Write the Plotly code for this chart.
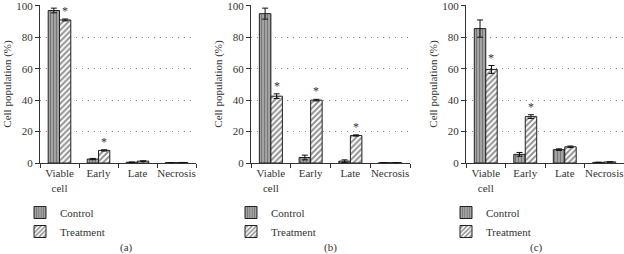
import plotly.graph_objects as go

categories = ["Viable<br>cell", "Early", "Late", "Necrosis"]
panel_labels = ["(a)", "(b)", "(c)"]

ctrl_a = [97.0, 2.5, 0.5, 0.2]
ctrl_a_err = [1.5, 0.4, 0.1, 0.05]
trt_a = [91.0, 8.0, 1.2, 0.3]
trt_a_err = [0.6, 0.4, 0.2, 0.05]
star_a = [True, True, False, False]

ctrl_b = [95.0, 3.5, 1.2, 0.2]
ctrl_b_err = [3.5, 1.5, 0.8, 0.05]
trt_b = [42.5, 40.0, 17.5, 0.2]
trt_b_err = [1.5, 0.5, 0.4, 0.05]
star_b = [True, True, True, False]

ctrl_c = [85.5, 5.5, 8.5, 0.4]
ctrl_c_err = [5.5, 1.2, 0.5, 0.1]
trt_c = [59.5, 29.5, 10.3, 0.7]
trt_c_err = [2.5, 1.2, 0.5, 0.1]
star_c = [True, True, False, False]

y_ticks = [0, 20, 40, 60, 80, 100]

panels = [
    (ctrl_a, ctrl_a_err, trt_a, trt_a_err, star_a),
    (ctrl_b, ctrl_b_err, trt_b, trt_b_err, star_b),
    (ctrl_c, ctrl_c_err, trt_c, trt_c_err, star_c),
]

W, H = 624, 254
mt, mb = 5, 91
x_doms_px = [(40, 196), (251, 410), (466, 624)]
bargap = 0.42

FONT = "Liberation Serif"
TXT = "#333"
fig = go.Figure()
layout = dict(
    width=W, height=H,
    margin=dict(l=0, r=0, t=mt, b=mb, autoexpand=False),
    paper_bgcolor="white", plot_bgcolor="white",
    font=dict(family=FONT, size=11, color=TXT),
    barmode="group", bargap=bargap, bargroupgap=0,
    showlegend=True,
)
annotations = []
plot_h = H - mt - mb

def py_to_paper(py):
    return (H - mb - py) / plot_h

for i, (c, ce, t, te, st) in enumerate(panels):
    sfx = "" if i == 0 else str(i + 1)
    xa, ya = "x" + sfx, "y" + sfx
    lg = "legend" + sfx
    fig.add_trace(go.Bar(
        x=categories, y=c, name="Control", xaxis=xa, yaxis=ya, legend=lg,
        marker=dict(color="#9a9a9a", line=dict(color="#222", width=1),
                    pattern=dict(shape="|", fgcolor="#444", bgcolor="#a8a8a8", size=3, solidity=0.4)),
        error_y=dict(type="data", array=ce, color="#111", thickness=1, width=3),
    ))
    fig.add_trace(go.Bar(
        x=categories, y=t, name="Treatment", xaxis=xa, yaxis=ya, legend=lg,
        marker=dict(color="white", line=dict(color="#222", width=1),
                    pattern=dict(shape="/", fgcolor="#222", bgcolor="white", size=4, solidity=0.5)),
        error_y=dict(type="data", array=te, color="#111", thickness=1, width=3),
    ))
    x0, x1 = x_doms_px[i]
    layout["xaxis" + sfx] = dict(
        domain=[x0 / W, x1 / W], anchor=ya, type="category",
        showline=True, linecolor="#333", linewidth=1,
        ticks="outside", tickson="boundaries", ticklen=4, tickcolor="#333",
        tickangle=0, automargin=False,
        tickfont=dict(family=FONT, size=11, color=TXT), showgrid=False,
    )
    layout["yaxis" + sfx] = dict(
        domain=[0, 1], anchor=xa, range=[0, 100.5], tickvals=y_ticks,
        showline=True, linecolor="#333", linewidth=1,
        ticks="outside", ticklen=4, tickcolor="#333",
        showgrid=True, gridcolor="#888", griddash="1px,5px", gridwidth=1,
        zeroline=False, automargin=False, ticklabeloverflow="allow",
        tickfont=dict(family=FONT, size=11, color=TXT),
        title=dict(text="Cell population (%)", font=dict(family=FONT, size=11, color=TXT), standoff=2),
    )
    layout[lg] = dict(
        x=(x0 - 20) / W, y=py_to_paper(198), xanchor="left", yanchor="top",
        orientation="v", bgcolor="rgba(0,0,0,0)",
        font=dict(family=FONT, size=11, color=TXT),
        itemwidth=30, tracegroupgap=0,
    )
    annotations.append(dict(
        text=panel_labels[i], xref="paper", yref="paper",
        x=(x0 + x1) / 2 / W, y=py_to_paper(247),
        yanchor="middle", showarrow=False,
        font=dict(family=FONT, size=11, color=TXT),
    ))
    cat_w = (x1 - x0) / len(categories)
    bar_w = cat_w * (1 - bargap) / 2
    for j, flag in enumerate(st):
        if flag:
            annotations.append(dict(
                text="*", x=categories[j], y=t[j] + te[j], xref=xa, yref=ya,
                xshift=bar_w / 2, yshift=-1, yanchor="bottom", showarrow=False,
                font=dict(family=FONT, size=12, color=TXT),
            ))

layout["annotations"] = annotations
fig.update_layout(**layout)
fig.write_html("out.html", config={"displayModeBar": False},
               post_script="document.body.style.margin='0';")
